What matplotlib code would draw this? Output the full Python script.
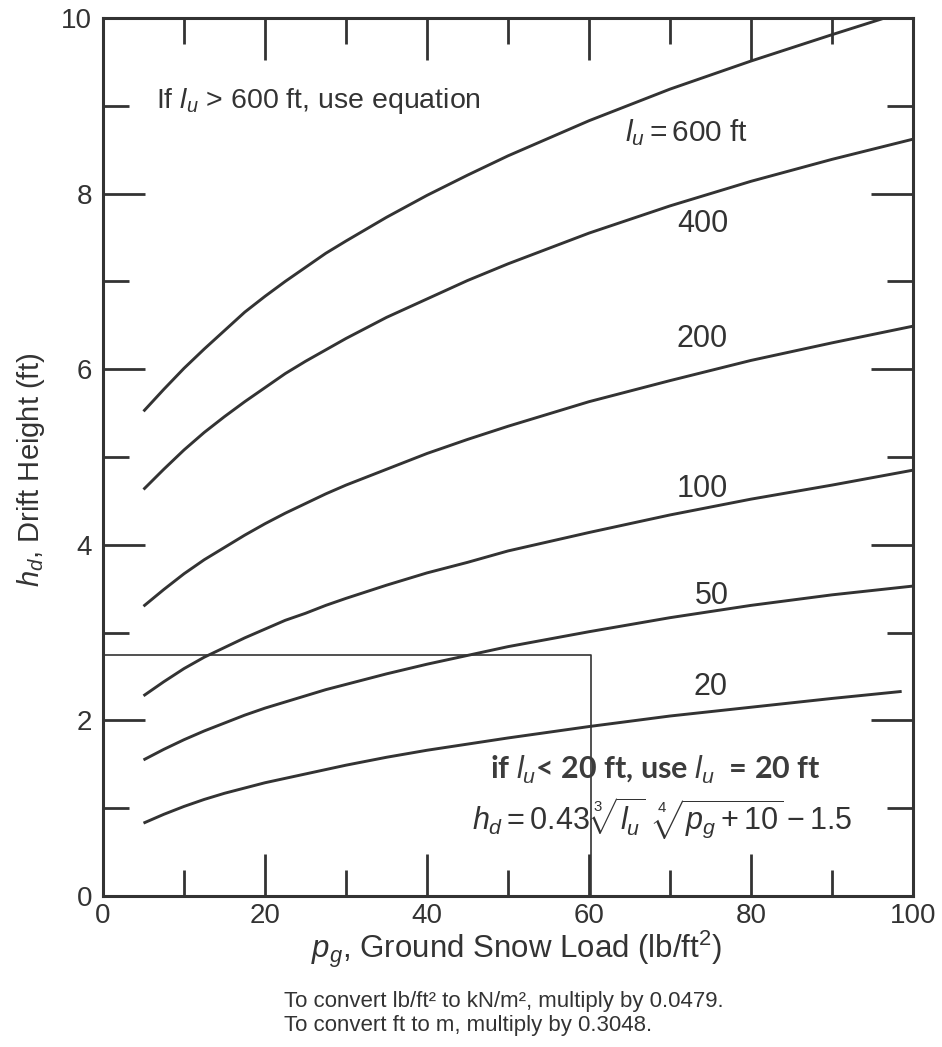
import matplotlib
matplotlib.use("Agg")
import matplotlib.pyplot as plt
from matplotlib.ticker import MultipleLocator

plt.rcParams['font.family'] = ['Liberation Sans', 'DejaVu Sans']
plt.rcParams['mathtext.fontset'] = 'custom'
plt.rcParams['mathtext.rm'] = 'Liberation Sans'
plt.rcParams['mathtext.it'] = 'Liberation Sans:italic'
plt.rcParams['mathtext.bf'] = 'Liberation Sans:bold'

# Values: ground snow load pg (lb/ft2) vs drift height hd (ft)
pg = [5, 7.5, 10, 12.5, 15, 17.5, 20, 22.5, 25, 27.5, 30, 35, 40, 45, 50, 60, 70, 80, 90, 100]
pg_600 = [5, 7.5, 10, 12.5, 15, 17.5, 20, 22.5, 25, 27.5, 30, 35, 40, 45, 50, 60, 70, 80, 90, 96.5]
hd_600 = [5.52, 5.77, 6.01, 6.23, 6.44, 6.65, 6.83, 7.00, 7.16, 7.32, 7.46, 7.73, 7.98, 8.21, 8.43,
          8.83, 9.19, 9.51, 9.81, 10.0]
hd_400 = [4.63, 4.86, 5.08, 5.28, 5.46, 5.63, 5.79, 5.95, 6.09, 6.22, 6.35, 6.59, 6.80, 7.01, 7.20,
          7.55, 7.86, 8.14, 8.39, 8.62]
hd_200 = [3.30, 3.49, 3.67, 3.83, 3.97, 4.11, 4.24, 4.36, 4.47, 4.58, 4.68, 4.86, 5.04, 5.20, 5.35,
          5.63, 5.87, 6.10, 6.30, 6.49]
hd_100 = [2.28, 2.44, 2.59, 2.72, 2.83, 2.94, 3.04, 3.14, 3.22, 3.31, 3.39, 3.54, 3.68, 3.80, 3.93,
          4.14, 4.34, 4.52, 4.68, 4.85]
hd_50 = [1.55, 1.67, 1.78, 1.88, 1.97, 2.06, 2.14, 2.21, 2.28, 2.35, 2.41, 2.53, 2.64, 2.74, 2.84,
         3.01, 3.17, 3.31, 3.43, 3.53]
pg_20 = [5, 7.5, 10, 12.5, 15, 17.5, 20, 22.5, 25, 27.5, 30, 35, 40, 45, 50, 60, 70, 80, 90, 98.6]
hd_20 = [0.83, 0.93, 1.02, 1.10, 1.17, 1.23, 1.29, 1.34, 1.39, 1.44, 1.49, 1.58, 1.66, 1.73, 1.80,
         1.93, 2.05, 2.15, 2.25, 2.33]

curve_labels = [r'$l_u = 600$ ft', '400', '200', '100', '50', '20']
label_pos = [(72.1, 8.70), (74.1, 7.65), (74.0, 6.34), (74.0, 4.64), (75.2, 3.42), (75.0, 2.38)]
label_size = [21.5, 22, 22, 22, 22, 22]

example_pg = 60.3
example_hd = 2.75

xticks = [0, 20, 40, 60, 80, 100]
yticks = [0, 2, 4, 6, 8, 10]

ink = '#333333'

fig = plt.figure(figsize=(9.42, 10.47), dpi=100)
ax = fig.add_axes([103/942, 1 - 896/1047, 810/942, 878/1047])

series = [(pg_600, hd_600), (pg, hd_400), (pg, hd_200), (pg, hd_100), (pg, hd_50), (pg_20, hd_20)]
for xs, ys in series:
    ax.plot(xs, ys, color=ink, lw=2.1, solid_capstyle='butt', solid_joinstyle='round')

for (lx, ly), txt, fs in zip(label_pos, curve_labels, label_size):
    ax.text(lx, ly, txt, ha='center', va='center', fontsize=fs, color=ink)

# worked example line
ax.plot([0, example_pg, example_pg], [example_hd, example_hd, 0], color=ink, lw=1.2)

ax.text(6.6, 9.05, r'If $l_u$ > 600 ft, use equation', ha='left', va='center',
        fontsize=20.5, color=ink)
ax.text(68.2, 1.43, r'if $l_u$< 20 ft, use $l_u$  = 20 ft', ha='center', va='center',
        fontsize=22, color='#3c3c3c', fontweight='bold', family=['Lato', 'DejaVu Sans'])
ax.text(69.0, 0.88, r'$h_d = 0.43\,\sqrt[3]{l_u}\;\;\sqrt[4]{p_g + 10} - 1.5$',
        ha='center', va='center', fontsize=22, color=ink)

ax.set_xlim(0, 100)
ax.set_ylim(0, 10)
ax.set_xticks(xticks)
ax.set_yticks(yticks)
ax.xaxis.set_minor_locator(MultipleLocator(10))
ax.yaxis.set_minor_locator(MultipleLocator(1))
ax.tick_params(which='major', direction='in', length=30, width=2, top=True, right=True,
               labelsize=20, colors=ink, pad=8)
ax.tick_params(axis='x', which='major', pad=5)
ax.tick_params(which='minor', direction='in', length=19, width=2, top=True, right=True, colors=ink)
for s in ax.spines.values():
    s.set_linewidth(2.2)
    s.set_color(ink)

ax.set_xlabel(r'$p_g$, Ground Snow Load (lb/ft$^2$)', fontsize=22.5, color=ink)
ax.set_ylabel(r'$h_d$, Drift Height (ft)', fontsize=21, color=ink)
ax.xaxis.set_label_coords(0.51, -0.037)
ax.yaxis.set_label_coords(-0.069, 0.485)

fig.text(284/942, 1 - 1001/1047, 'To convert lb/ft² to kN/m², multiply by 0.0479.',
         ha='left', va='center', fontsize=16, color=ink)
fig.text(284/942, 1 - 1026/1047, 'To convert ft to m, multiply by 0.3048.',
         ha='left', va='center', fontsize=16, color=ink)

fig.savefig('out.png', dpi=100)
